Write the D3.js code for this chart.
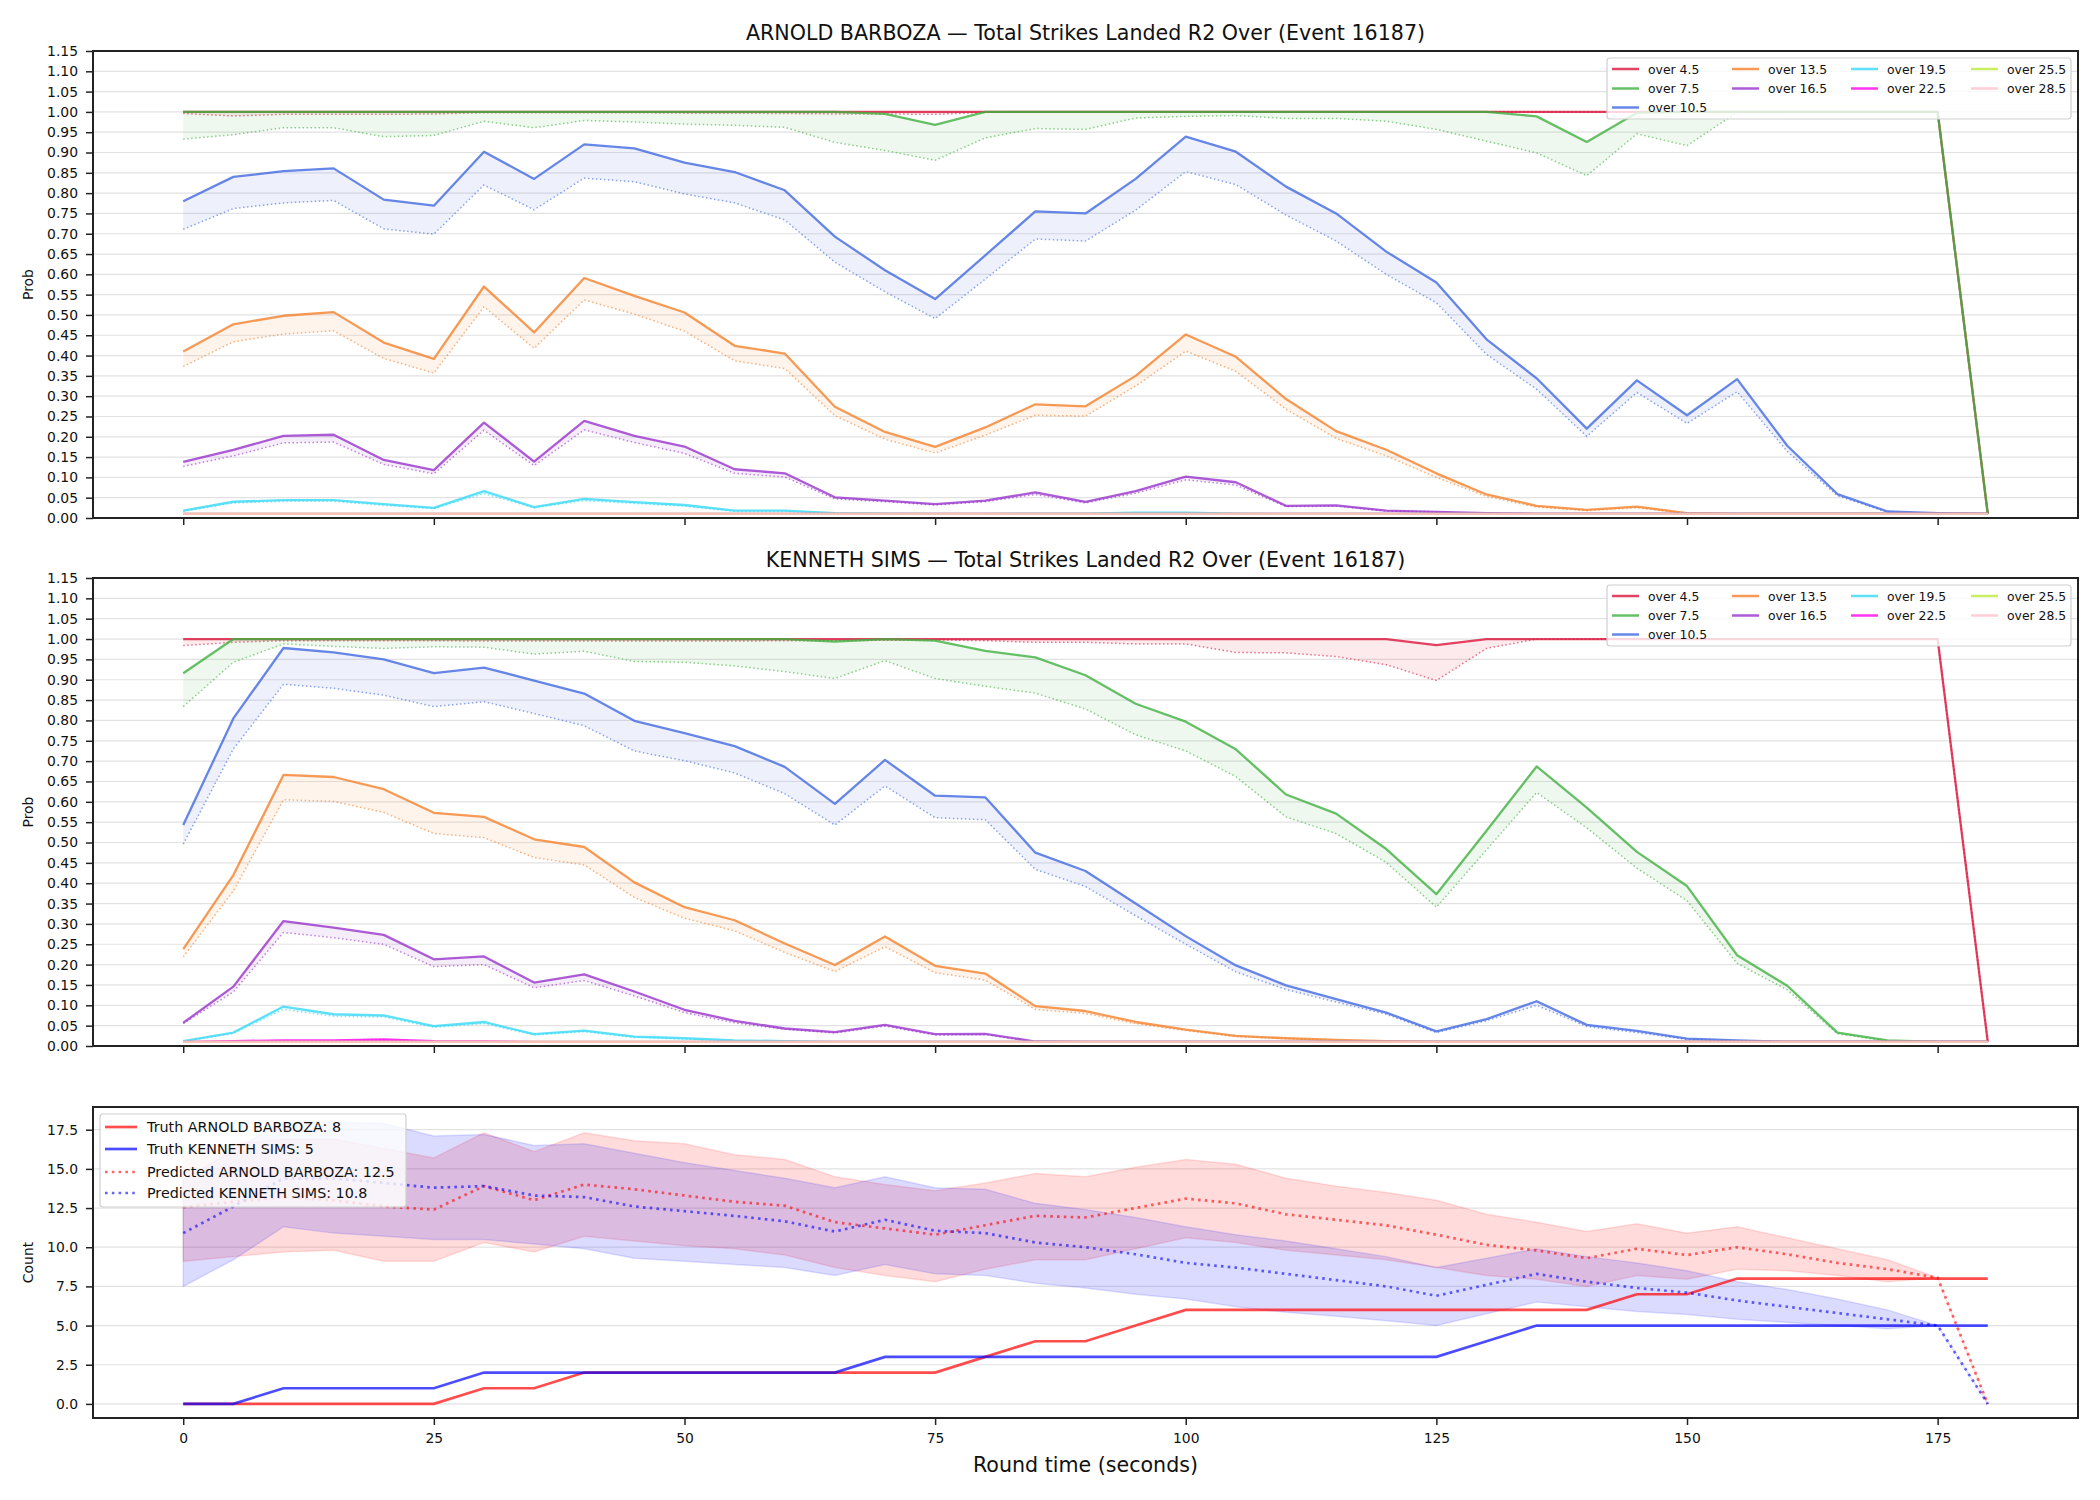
<!DOCTYPE html>
<html>
<head>
<meta charset="utf-8">
<script src="https://cdn.jsdelivr.net/npm/d3@7"></script>
<style>
  body { margin: 0; background: #fff; }
  text { font-family: "DejaVu Sans", sans-serif; }
</style>
</head>
<body>
<script>

// ---- data ----
const times = [0,5,10,15,20,25,30,35,40,45,50,55,60,65,70,75,80,85,90,95,100,105,110,115,120,125,130,135,140,145,150,155,160,165,170,175,180];

const probTicks = [0,0.05,0.10,0.15,0.20,0.25,0.30,0.35,0.40,0.45,0.50,0.55,0.60,0.65,0.70,0.75,0.80,0.85,0.90,0.95,1.00,1.05,1.10,1.15];
const countTicks = [0,2.5,5,7.5,10,12.5,15,17.5];
const timeTicks = [0,25,50,75,100,125,150,175];

const thresholds = ["over 4.5","over 7.5","over 10.5","over 13.5","over 16.5","over 19.5","over 22.5","over 25.5","over 28.5"];
const thresholdColors = ["#dc143c","#40b040","#4169e1","#f5812a","#9932cc","#36d8f6","#ff00ee","#bbeb38","#ffc0cb"];

const floorProb = [0.01,0.01,0.01,0.01,0.01,0.01,0.01,0.01,0.01,0.01,
  0.01,0.01,0.01,0.01,0.01,0.01,0.01,0.01,0.01,0.01,
  0.01,0.01,0.01,0.01,0.01,0.01,0.01,0.01,0.01,0.01,
  0.01,0.01,0.01,0.01,0.01,0.01,0.01];

// ARNOLD BARBOZA - prob over (solid) and lower band (dotted)
const a45 = [1,1,1,1,1,1,1,1,1,1, 1,1,1,1,1,1,1,1,1,1, 1,1,1,1,1,1,1,1,1,1, 1,1,1,1,1,1,0.01];
const a45Low = [0.996,0.990,0.994,0.994,0.994,0.995,0.998,0.998,0.998,0.998,
  0.997,0.997,0.996,0.995,0.995,0.994,0.999,1,1,1, 1,1,1,1,1,1,1,1,1,1, 1,1,1,1,1,1,0.01];
const a75 = [1,1,1,1,1,1,1,1,1,1, 1,1,1,1,0.995,0.968,1,1,1,1,
  1,1,1,1,1,1,1,0.989,0.926,0.998, 1,1,1,1,1,1,0.01];
const a75Low = [0.933,0.944,0.961,0.961,0.939,0.942,0.977,0.961,0.979,0.975,
  0.970,0.967,0.962,0.925,0.905,0.881,0.936,0.959,0.957,0.985,
  0.989,0.991,0.984,0.984,0.977,0.957,0.928,0.899,0.843,0.946,
  0.917,0.999,1,1,1,1,0.01];
const a105 = [0.780,0.840,0.854,0.861,0.784,0.769,0.902,0.835,0.920,0.910,
  0.875,0.852,0.807,0.693,0.610,0.539,0.647,0.755,0.750,0.835,
  0.939,0.902,0.816,0.750,0.656,0.580,0.440,0.344,0.220,0.339,
  0.253,0.342,0.178,0.059,0.016,0.012,0.01];
const a105Low = [0.711,0.762,0.776,0.782,0.712,0.699,0.820,0.759,0.837,0.828,
  0.798,0.776,0.734,0.630,0.557,0.491,0.588,0.687,0.682,0.758,
  0.853,0.821,0.746,0.682,0.600,0.530,0.403,0.317,0.201,0.309,
  0.233,0.311,0.164,0.055,0.014,0.011,0.01];
const a135 = [0.410,0.477,0.498,0.507,0.432,0.392,0.570,0.457,0.591,0.547,
  0.506,0.424,0.405,0.274,0.212,0.175,0.223,0.280,0.275,0.350,
  0.452,0.397,0.293,0.214,0.168,0.110,0.058,0.030,0.020,0.028,
  0.012,0.01,0.01,0.01,0.01,0.01,0.01];
const a135Low = [0.373,0.434,0.453,0.461,0.393,0.357,0.520,0.418,0.537,0.502,
  0.460,0.387,0.368,0.252,0.194,0.160,0.204,0.253,0.251,0.325,
  0.411,0.361,0.268,0.196,0.153,0.100,0.053,0.027,0.018,0.025,
  0.011,0.01,0.01,0.01,0.01,0.01,0.01];
const a165 = [0.138,0.168,0.202,0.205,0.143,0.118,0.235,0.139,0.239,0.202,
  0.176,0.120,0.110,0.051,0.043,0.034,0.043,0.063,0.040,0.066,
  0.102,0.088,0.030,0.031,0.018,0.015,0.012,0.01,0.01,0.01,
  0.01,0.01,0.01,0.01,0.01,0.01,0.01];
const a165Low = [0.127,0.153,0.185,0.187,0.132,0.109,0.216,0.129,0.217,0.186,
  0.159,0.110,0.101,0.047,0.040,0.032,0.040,0.058,0.037,0.061,
  0.094,0.081,0.028,0.029,0.017,0.014,0.011,0.01,0.01,0.01,
  0.01,0.01,0.01,0.01,0.01,0.01,0.01];
const a195 = [0.018,0.040,0.044,0.044,0.034,0.025,0.066,0.027,0.047,0.039,
  0.032,0.018,0.018,0.012,0.011,0.01,0.01,0.011,0.011,0.013,
  0.013,0.011,0.01,0.01,0.01,0.01,0.01,0.01,0.01,0.01,
  0.01,0.01,0.01,0.01,0.01,0.01,0.01];
const a195Low = [0.016,0.037,0.041,0.041,0.031,0.023,0.060,0.025,0.043,0.036,
  0.029,0.016,0.016,0.011,0.01,0.01,0.01,0.01,0.01,0.012,
  0.012,0.01,0.01,0.01,0.01,0.01,0.01,0.01,0.01,0.01,
  0.01,0.01,0.01,0.01,0.01,0.01,0.01];

// KENNETH SIMS
const k45 = [1,1,1,1,1,1,1,1,1,1, 1,1,1,1,1,1,1,1,1,1, 1,1,1,1,1,0.985,1,1,1,1, 1,1,1,1,1,1,0.01];
const k45Low = [0.984,0.992,0.996,0.996,0.996,0.996,0.995,0.995,0.995,0.995,
  0.995,0.995,0.996,0.996,0.997,0.998,0.996,0.992,0.992,0.988,
  0.988,0.967,0.966,0.957,0.937,0.898,0.977,1,1,1,
  1,1,1,1,1,1,0.01];
const k75 = [0.916,1,1,1,1,1,1,1,1,1,
  1,1,1,0.994,1,0.996,0.971,0.955,0.911,0.841,
  0.797,0.729,0.618,0.571,0.484,0.373,0.529,0.687,0.586,0.477,
  0.393,0.223,0.148,0.033,0.014,0.01,0.01];
const k75Low = [0.834,0.943,0.988,0.982,0.977,0.981,0.980,0.963,0.970,0.945,
  0.943,0.934,0.920,0.903,0.947,0.903,0.884,0.867,0.828,0.765,
  0.725,0.662,0.563,0.522,0.451,0.341,0.482,0.623,0.536,0.437,
  0.357,0.203,0.138,0.030,0.012,0.01,0.01];
const k105 = [0.543,0.805,0.978,0.967,0.950,0.916,0.930,0.898,0.866,0.799,
  0.769,0.737,0.686,0.595,0.703,0.615,0.611,0.475,0.430,0.350,
  0.270,0.198,0.149,0.115,0.082,0.036,0.066,0.110,0.052,0.037,
  0.018,0.014,0.01,0.01,0.01,0.01,0.01];
const k105Low = [0.496,0.730,0.889,0.879,0.862,0.834,0.846,0.817,0.787,0.725,
  0.701,0.671,0.620,0.543,0.639,0.561,0.556,0.434,0.392,0.320,
  0.250,0.182,0.139,0.108,0.078,0.033,0.062,0.100,0.048,0.033,
  0.016,0.013,0.01,0.01,0.01,0.01,0.01];
const k135 = [0.238,0.420,0.666,0.661,0.631,0.573,0.563,0.508,0.489,0.402,
  0.341,0.309,0.252,0.199,0.269,0.197,0.178,0.098,0.086,0.059,
  0.040,0.025,0.019,0.015,0.012,0.01,0.01,0.01,0.01,0.01,
  0.01,0.01,0.01,0.01,0.01,0.01,0.01];
const k135Low = [0.219,0.381,0.605,0.601,0.574,0.522,0.512,0.463,0.445,0.365,
  0.314,0.283,0.230,0.183,0.244,0.180,0.162,0.090,0.080,0.055,
  0.038,0.023,0.018,0.014,0.011,0.01,0.01,0.01,0.01,0.01,
  0.01,0.01,0.01,0.01,0.01,0.01,0.01];
const k165 = [0.057,0.146,0.307,0.291,0.273,0.213,0.220,0.156,0.176,0.134,
  0.089,0.062,0.043,0.034,0.052,0.029,0.030,0.011,0.01,0.01,
  0.01,0.01,0.01,0.01,0.01,0.01,0.01,0.01,0.01,0.01,
  0.01,0.01,0.01,0.01,0.01,0.01,0.01];
const k165Low = [0.055,0.133,0.279,0.266,0.250,0.195,0.200,0.143,0.161,0.123,
  0.082,0.057,0.041,0.032,0.049,0.027,0.028,0.01,0.01,0.01,
  0.01,0.01,0.01,0.01,0.01,0.01,0.01,0.01,0.01,0.01,
  0.01,0.01,0.01,0.01,0.01,0.01,0.01];
const k195 = [0.012,0.033,0.097,0.078,0.075,0.049,0.059,0.029,0.038,0.023,
  0.019,0.014,0.012,0.01,0.01,0.01,0.01,0.01,0.01,0.01,
  0.01,0.01,0.01,0.01,0.01,0.01,0.01,0.01,0.01,0.01,
  0.01,0.01,0.01,0.01,0.01,0.01,0.01];
const k195Low = [0.011,0.031,0.090,0.073,0.071,0.046,0.055,0.027,0.035,0.021,
  0.017,0.013,0.011,0.01,0.01,0.01,0.01,0.01,0.01,0.01,
  0.01,0.01,0.01,0.01,0.01,0.01,0.01,0.01,0.01,0.01,
  0.01,0.01,0.01,0.01,0.01,0.01,0.01];
const k225 = [0.01,0.012,0.014,0.014,0.016,0.012,0.011,0.01,0.01,0.01,
  0.01,0.01,0.01,0.01,0.01,0.01,0.01,0.01,0.01,0.01,
  0.01,0.01,0.01,0.01,0.01,0.01,0.01,0.01,0.01,0.01,
  0.01,0.01,0.01,0.01,0.01,0.01,0.01];
const k225Low = [0.01,0.011,0.013,0.013,0.015,0.011,0.01,0.01,0.01,0.01,
  0.01,0.01,0.01,0.01,0.01,0.01,0.01,0.01,0.01,0.01,
  0.01,0.01,0.01,0.01,0.01,0.01,0.01,0.01,0.01,0.01,
  0.01,0.01,0.01,0.01,0.01,0.01,0.01];

// counts panel
const truthBarboza = [0,0,0,0,0,0,1,1,2,2, 2,2,2,2,2,2,3,4,4,5, 6,6,6,6,6,6,6,6,6,7, 7,8,8,8,8,8,8];
const truthSims = [0,0,1,1,1,1,2,2,2,2, 2,2,2,2,3,3,3,3,3,3, 3,3,3,3,3,3,4,5,5,5, 5,5,5,5,5,5,5];
const predBarboza = [12.55,12.9,13.2,13.0,12.6,12.4,13.9,13.0,14.0,13.7,
  13.3,12.9,12.65,11.6,11.2,10.8,11.4,12.0,11.9,12.5,
  13.1,12.8,12.1,11.75,11.4,10.8,10.15,9.8,9.3,9.9,
  9.5,10.0,9.55,9.0,8.6,8.05,0];
const predSims = [10.9,12.6,14.4,14.4,14.1,13.8,13.9,13.3,13.2,12.6,
  12.3,12.0,11.65,11.0,11.75,11.05,10.9,10.3,10.0,9.55,
  9.0,8.7,8.3,7.9,7.5,6.9,7.6,8.3,7.8,7.4,
  7.1,6.6,6.2,5.8,5.4,5.0,0];
const barbozaHi = [16.0,16.6,16.9,16.9,16.3,15.7,17.3,16.1,17.3,16.8,
  16.6,15.9,15.6,14.5,14.0,13.6,14.1,14.7,14.5,15.1,
  15.6,15.3,14.4,13.9,13.5,13.0,12.1,11.6,11.0,11.5,
  10.9,11.3,10.6,9.9,9.2,8.05,0];
const barbozaLo = [9.1,9.4,9.7,9.8,9.1,9.1,10.3,9.7,10.7,10.4,
  10.1,9.9,9.5,8.7,8.2,7.8,8.6,9.2,9.2,9.9,
  10.6,10.3,9.8,9.5,9.2,8.7,8.2,7.95,7.5,8.2,
  7.95,8.6,8.5,8.2,7.8,8.05,0];
const simsHi = [14.3,16.2,18.0,18.0,17.9,17.1,17.2,16.5,16.6,16.0,
  15.4,14.9,14.4,13.8,14.5,13.8,13.7,12.8,12.4,11.9,
  11.3,10.8,10.4,9.9,9.4,8.7,9.3,9.9,9.4,9.0,
  8.5,7.8,7.3,6.7,6.0,5.0,0];
const simsLo = [7.5,9.2,11.3,10.9,10.7,10.5,10.5,10.2,9.9,9.3,
  9.1,8.9,8.7,8.2,8.9,8.3,8.2,7.7,7.4,7.0,
  6.7,6.2,5.85,5.6,5.3,5.0,5.75,6.5,6.2,5.9,
  5.7,5.4,5.2,5.0,4.8,5.0,0];

const barbozaProb = [a45, a75, a105, a135, a165, a195, floorProb, floorProb, floorProb];
const barbozaLow = [a45Low, a75Low, a105Low, a135Low, a165Low, a195Low, floorProb, floorProb, floorProb];
const simsProb = [k45, k75, k105, k135, k165, k195, k225, floorProb, floorProb];
const simsLow = [k45Low, k75Low, k105Low, k135Low, k165Low, k195Low, k225Low, floorProb, floorProb];

// ---- drawing ----
const W = 2100, H = 1500;
const left = 93, right = 2078;

const svg = d3.select("body")
  .append("svg")
  .attr("width", W)
  .attr("height", H);

svg.append("rect").attr("width", W).attr("height", H).attr("fill", "#fff");

const x = d3.scaleLinear().domain([-9, 189]).range([left, right]);

function styleAxis(g){
  g.select(".domain").remove();
  g.selectAll(".tick line").attr("stroke", "#222").attr("stroke-width", 1.5);
  g.selectAll(".tick text").attr("fill", "#111").style("font-size", "13.9px");
}

function drawFrame(top, bottom){
  svg.append("rect")
    .attr("x", left).attr("y", top)
    .attr("width", right - left).attr("height", bottom - top)
    .attr("fill", "none")
    .attr("stroke", "#222")
    .attr("stroke-width", 2);
}

function drawProbPanel(top, bottom, title, probs, lows){

  const y = d3.scaleLinear().domain([0, 1.15]).range([bottom, top]);

  // grid
  svg.append("g").selectAll("line")
    .data(probTicks)
    .enter().append("line")
    .attr("x1", left).attr("x2", right)
    .attr("y1", d => y(d)).attr("y2", d => y(d))
    .attr("stroke", "#e2e2e2").attr("stroke-width", 1.2);

  thresholds.forEach((name, k) => {
    const col = thresholdColors[k];
    const hi = probs[k], lo = lows[k];

    svg.append("path")
      .datum(times)
      .attr("fill", col).attr("fill-opacity", 0.09)
      .attr("d", d3.area()
        .x(d => x(d))
        .y0((d, i) => y(lo[i]))
        .y1((d, i) => y(hi[i])));

    svg.append("path")
      .datum(times)
      .attr("fill", "none")
      .attr("stroke", col).attr("stroke-opacity", 0.8)
      .attr("stroke-width", 2.3)
      .attr("stroke-linejoin", "round")
      .attr("d", d3.line().x(d => x(d)).y((d, i) => y(hi[i])));

    svg.append("path")
      .datum(times)
      .attr("fill", "none")
      .attr("stroke", col).attr("stroke-opacity", 0.6)
      .attr("stroke-width", 1.5)
      .attr("stroke-dasharray", "1.5,2.5")
      .attr("d", d3.line().x(d => x(d)).y((d, i) => y(lo[i])));
  });

  drawFrame(top, bottom);

  const ya = svg.append("g")
    .attr("transform", `translate(${left},0)`)
    .call(d3.axisLeft(y).tickValues(probTicks).tickFormat(d3.format(".2f")).tickSize(7).tickPadding(8));
  styleAxis(ya);

  const xa = svg.append("g")
    .attr("transform", `translate(0,${bottom})`)
    .call(d3.axisBottom(x).tickValues(timeTicks).tickFormat("").tickSize(7));
  styleAxis(xa);

  svg.append("text")
    .attr("x", (left + right) / 2)
    .attr("y", top - 11)
    .attr("text-anchor", "middle")
    .style("font-size", "20.6px")
    .attr("fill", "#111")
    .text(title);

  svg.append("text")
    .attr("transform", `translate(28,${(top + bottom) / 2}) rotate(-90)`)
    .attr("text-anchor", "middle")
    .attr("dominant-baseline", "central")
    .style("font-size", "13.9px")
    .attr("fill", "#111")
    .text("Prob");

  // legend, 4 columns
  svg.append("rect")
    .attr("x", 1607).attr("y", top + 7)
    .attr("width", 464).attr("height", 61)
    .attr("rx", 3)
    .attr("fill", "#fff").attr("fill-opacity", 0.8)
    .attr("stroke", "#cfcfcf").attr("stroke-width", 1.2);

  const colX = [1612, 1732, 1851, 1971];
  const colOf = [0, 0, 0, 1, 1, 2, 2, 3, 3];
  const rowOf = [0, 1, 2, 0, 1, 0, 1, 0, 1];
  const rowY = [18, 37.5, 56.5];

  thresholds.forEach((name, k) => {
    const lx = colX[colOf[k]], ly = top + rowY[rowOf[k]];
    svg.append("line")
      .attr("x1", lx).attr("x2", lx + 27)
      .attr("y1", ly).attr("y2", ly)
      .attr("stroke", thresholdColors[k]).attr("stroke-opacity", 0.8)
      .attr("stroke-width", 2.5);
    svg.append("text")
      .attr("x", lx + 36).attr("y", ly)
      .attr("dominant-baseline", "central")
      .style("font-size", "12.4px")
      .attr("fill", "#111")
      .text(name);
  });
}

function drawCountPanel(top, bottom){

  const y = d3.scaleLinear().domain([-0.9, 18.95]).range([bottom, top]);

  svg.append("g").selectAll("line")
    .data(countTicks)
    .enter().append("line")
    .attr("x1", left).attr("x2", right)
    .attr("y1", d => y(d)).attr("y2", d => y(d))
    .attr("stroke", "#e2e2e2").attr("stroke-width", 1.2);

  const bands = [[barbozaLo, barbozaHi, "#ff0000"], [simsLo, simsHi, "#0000ff"]];
  bands.forEach(b => {
    svg.append("path")
      .datum(times)
      .attr("fill", b[2]).attr("fill-opacity", 0.14)
      .attr("stroke", b[2]).attr("stroke-opacity", 0.12).attr("stroke-width", 1.5)
      .attr("d", d3.area()
        .x(d => x(d))
        .y0((d, i) => y(b[0][i]))
        .y1((d, i) => y(b[1][i])));
  });

  const lines = [
    { v: truthBarboza, c: "#ff0000", dash: null, op: 0.7, label: "Truth ARNOLD BARBOZA: 8" },
    { v: truthSims, c: "#0000ff", dash: null, op: 0.7, label: "Truth KENNETH SIMS: 5" },
    { v: predBarboza, c: "#ff0000", dash: "2.6,4.2", op: 0.6, label: "Predicted ARNOLD BARBOZA: 12.5" },
    { v: predSims, c: "#0000ff", dash: "2.6,4.2", op: 0.6, label: "Predicted KENNETH SIMS: 10.8" }
  ];

  lines.forEach(l => {
    svg.append("path")
      .datum(times)
      .attr("fill", "none")
      .attr("stroke", l.c).attr("stroke-opacity", l.op)
      .attr("stroke-width", 2.7)
      .attr("stroke-dasharray", l.dash)
      .attr("d", d3.line().x(d => x(d)).y((d, i) => y(l.v[i])));
  });

  drawFrame(top, bottom);

  const ya = svg.append("g")
    .attr("transform", `translate(${left},0)`)
    .call(d3.axisLeft(y).tickValues(countTicks).tickFormat(d3.format(".1f")).tickSize(7).tickPadding(8));
  styleAxis(ya);

  const xa = svg.append("g")
    .attr("transform", `translate(0,${bottom})`)
    .call(d3.axisBottom(x).tickValues(timeTicks).tickSize(7).tickPadding(8));
  styleAxis(xa);

  svg.append("text")
    .attr("x", (left + right) / 2)
    .attr("y", 1472)
    .attr("text-anchor", "middle")
    .style("font-size", "20.6px")
    .attr("fill", "#111")
    .text("Round time (seconds)");

  svg.append("text")
    .attr("transform", `translate(28,${(top + bottom) / 2}) rotate(-90)`)
    .attr("text-anchor", "middle")
    .attr("dominant-baseline", "central")
    .style("font-size", "13.9px")
    .attr("fill", "#111")
    .text("Count");

  // legend
  svg.append("rect")
    .attr("x", 100).attr("y", top + 7)
    .attr("width", 306).attr("height", 93)
    .attr("rx", 3)
    .attr("fill", "#fff").attr("fill-opacity", 0.8)
    .attr("stroke", "#cfcfcf").attr("stroke-width", 1.2);

  const rowY = [20, 42, 65, 86];
  lines.forEach((l, k) => {
    const ly = top + rowY[k];
    svg.append("line")
      .attr("x1", 105).attr("x2", 137)
      .attr("y1", ly).attr("y2", ly)
      .attr("stroke", l.c).attr("stroke-opacity", l.op)
      .attr("stroke-width", 2.7)
      .attr("stroke-dasharray", l.dash);
    svg.append("text")
      .attr("x", 147).attr("y", ly)
      .attr("dominant-baseline", "central")
      .style("font-size", "14.3px")
      .attr("fill", "#111")
      .text(l.label);
  });
}

drawProbPanel(51, 518, "ARNOLD BARBOZA \u2014 Total Strikes Landed R2 Over (Event 16187)", barbozaProb, barbozaLow);
drawProbPanel(578, 1046, "KENNETH SIMS \u2014 Total Strikes Landed R2 Over (Event 16187)", simsProb, simsLow);
drawCountPanel(1107, 1418);

</script>
</body>
</html>
